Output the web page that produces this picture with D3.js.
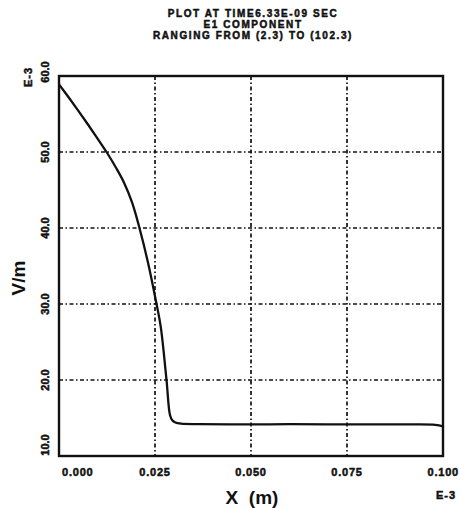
<!DOCTYPE html>
<html><head><meta charset="utf-8">
<script src="https://cdn.jsdelivr.net/npm/d3@7"></script>
<style>body{margin:0;background:#fff}svg{display:block}</style>
</head><body>
<script>
const titleLines = ["PLOT AT TIME6.33E-09 SEC", "E1 COMPONENT", "RANGING FROM (2.3) TO (102.3)"];
const xTicks = [0, 0.025, 0.05, 0.075, 0.1];
const xTickLabels = ["0.000", "0.025", "0.050", "0.075", "0.100"];
const yTicks = [10, 20, 30, 40, 50, 60];
const yTickLabels = ["10.0", "20.0", "30.0", "40.0", "50.0", "60.0"];
const xValues = [0, 0.0025, 0.005, 0.0075, 0.010, 0.0125, 0.0150, 0.0170, 0.0190, 0.0208, 0.0232, 0.0254, 0.0265, 0.0280, 0.0289, 0.0295, 0.0303, 0.0318, 0.0367, 0.050, 0.060, 0.075, 0.090, 0.098, 0.100];
const yValues = [58.9, 57.2, 55.45, 53.65, 51.8, 49.9, 47.8, 45.9, 43.4, 40.3, 35.4, 30.0, 27.0, 20.0, 15.4, 14.7, 14.4, 14.25, 14.2, 14.15, 14.2, 14.15, 14.15, 14.1, 13.9];

const W = 460, H = 508;
const m = {left: 59, right: 443, top: 76, bottom: 456};
const svg = d3.select("body").append("svg").attr("width", W).attr("height", H);
const x = d3.scaleLinear().domain([0, 0.1]).range([m.left, m.right]);
const y = d3.scaleLinear().domain([10, 60]).range([m.bottom, m.top]);
const font = "'Liberation Sans', Arial, sans-serif";
const ink = "#111";

function heavy(sel) {
  return sel.attr("font-family", font).attr("font-weight", "bold").attr("fill", ink)
    .attr("stroke", ink).attr("stroke-width", 0.5);
}

// title
heavy(svg.append("g").selectAll("text").data(titleLines).join("text")
  .attr("x", 253).attr("y", (d, i) => 17 + i * 11)
  .attr("text-anchor", "middle").attr("font-size", 10).attr("letter-spacing", 1.6))
  .text(d => d);

// grid
const grid = svg.append("g").attr("stroke", ink).attr("stroke-width", 1.7).attr("stroke-dasharray", "4,2.5,1.5,2.5");
grid.selectAll("line.v").data(xTicks.slice(1, -1)).join("line").attr("class", "v")
  .attr("x1", d => x(d)).attr("x2", d => x(d)).attr("y1", m.top).attr("y2", m.bottom);
grid.selectAll("line.h").data(yTicks.slice(1, -1)).join("line").attr("class", "h")
  .attr("x1", m.left).attr("x2", m.right).attr("y1", d => y(d)).attr("y2", d => y(d));

// frame
svg.append("rect").attr("x", m.left).attr("y", m.top).attr("width", m.right - m.left).attr("height", m.bottom - m.top)
  .attr("fill", "none").attr("stroke", ink).attr("stroke-width", 2.4);

// curve
const pts = xValues.map((v, i) => [v, yValues[i]]);
svg.append("path").datum(pts)
  .attr("d", d3.line().x(d => x(d[0])).y(d => y(d[1])).curve(d3.curveCatmullRom.alpha(0.5)))
  .attr("fill", "none").attr("stroke", ink).attr("stroke-width", 2.3);

// x tick labels
const nX = xTicks.length;
heavy(svg.append("g").selectAll("text").data(xTicks).join("text")
  .attr("x", (d, i) => i === 0 ? x(d) + 3 : (i === nX - 1 ? 459 : x(d)))
  .attr("y", 476)
  .attr("text-anchor", (d, i) => i === 0 ? "start" : (i === nX - 1 ? "end" : "middle"))
  .attr("font-size", 11).attr("letter-spacing", 0.8))
  .text((d, i) => xTickLabels[i]);
heavy(svg.append("text").attr("x", 446).attr("y", 499).attr("text-anchor", "middle")
  .attr("font-size", 11).attr("letter-spacing", 1)).text("E-3");

// y tick labels (rotated)
heavy(svg.append("g").selectAll("text").data(yTicks).join("text")
  .attr("transform", (d, i) => {
    let cy = y(d);
    if (i === 0) cy = y(d) - 11;
    if (i === yTicks.length - 1) cy = y(d) - 4;
    return `translate(49,${cy}) rotate(-90)`;
  })
  .attr("text-anchor", "middle").attr("font-size", 11))
  .text((d, i) => yTickLabels[i]);
heavy(svg.append("text").attr("transform", "translate(32,77) rotate(-90)").attr("text-anchor", "middle")
  .attr("font-size", 11).attr("letter-spacing", 1)).text("E-3");

// axis titles
svg.append("text").attr("x", 252).attr("y", 504).attr("text-anchor", "middle")
  .attr("font-family", font).attr("font-weight", "bold").attr("font-size", 19).attr("fill", ink)
  .attr("xml:space", "preserve").text("X  (m)");
svg.append("text").attr("transform", "translate(25,278) rotate(-90)").attr("text-anchor", "middle")
  .attr("font-family", font).attr("font-weight", "bold").attr("font-size", 19).attr("fill", ink).text("V/m");
</script>
</body></html>
